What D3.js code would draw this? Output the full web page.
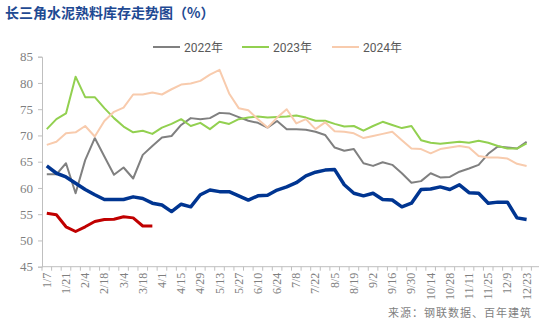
<!DOCTYPE html>
<html>
<head>
<meta charset="utf-8">
<script src="https://cdn.jsdelivr.net/npm/d3@7"></script>
<style>
  body { margin: 0; background: #fff; }
  svg { display: block; }
</style>
</head>
<body>
<svg id="chart" width="539" height="333"></svg>
<script>
// weekly categories, 1/7 .. 12/30
const weeks = [
  '1/7','1/14','1/21','1/28','2/4','2/11','2/18','2/25','3/4','3/11','3/18','3/25',
  '4/1','4/8','4/15','4/22','4/29','5/6','5/13','5/20','5/27','6/3','6/10','6/17',
  '6/24','7/1','7/8','7/15','7/22','7/29','8/5','8/12','8/19','8/26','9/2','9/9',
  '9/16','9/23','9/30','10/7','10/14','10/21','10/28','11/4','11/11','11/18','11/25','12/2',
  '12/9','12/16','12/23','12/30'
];

const y2022 = [62.6,62.6,64.7,59.0,65.3,69.5,66.0,62.5,63.9,61.8,66.3,68.0,69.6,69.9,72.0,73.3,73.1,73.3,
  74.3,74.2,73.5,72.8,72.4,71.5,72.75,71.2,71.2,71.1,70.7,70.1,67.7,67.1,67.4,64.7,64.2,64.9,
  64.4,62.8,61.0,61.3,62.8,62.0,62.1,63.1,63.7,64.4,66.5,67.9,67.7,67.5,68.8];
const y2023 = [71.2,73.1,74.2,81.2,77.3,77.3,75.2,73.3,71.7,70.6,70.9,70.3,71.5,72.2,73.1,71.8,72.4,71.2,
  72.6,72.2,73.1,73.4,73.6,73.4,73.5,73.6,73.8,73.4,72.8,72.8,72.2,71.7,71.8,70.9,71.8,72.6,
  72.0,71.4,71.8,69.1,68.6,68.4,68.6,68.8,68.6,69.0,68.6,68.0,67.5,67.5,68.5];
const y2024 = [68.2,68.8,70.4,70.6,71.8,69.8,72.75,74.5,75.3,77.8,77.8,78.2,77.8,78.8,79.7,79.9,80.4,81.6,
  82.5,78.0,75.2,74.8,73.1,71.5,73.4,75.0,72.3,73.1,71.2,72.5,70.8,70.7,70.4,69.5,69.9,70.3,
  70.7,69.1,67.5,67.4,66.6,67.4,67.7,68.0,67.7,66.1,65.8,65.8,65.6,64.6,64.2];
const y2025 = [64.2,62.8,62.1,60.9,59.7,58.7,57.8,57.8,57.8,58.3,58.0,57.1,56.75,55.5,56.9,56.4,58.7,59.6,
  59.3,59.3,58.5,57.7,58.5,58.6,59.6,60.2,61.0,62.3,63.0,63.4,63.5,60.6,59.0,58.5,59.0,57.8,
  57.7,56.4,57.1,59.7,59.8,60.2,59.7,60.6,59.1,59.0,57.1,57.3,57.3,54.3,54.0];
const y2026 = [55.2,54.9,52.6,51.7,52.6,53.6,54.0,54.05,54.5,54.3,52.75,52.75];

const yTicks = [45,50,55,60,65,70,75,80,85];

const series = [
  {name: '2022年', values: y2022, color: '#808080', width: 2, legend: true},
  {name: '2023年', values: y2023, color: '#92d050', width: 2, legend: true},
  {name: '2024年', values: y2024, color: '#f8cbad', width: 2, legend: true},
  {name: '2025年', values: y2025, color: '#003591', width: 3.5, legend: false},
  {name: '2026年', values: y2026, color: '#c00000', width: 3, legend: false}
];

const svg = d3.select('#chart');
const axisColor = '#bfbfbf';

const x = d3.scaleBand()
  .domain(weeks)
  .range([42, 541]);

const y = d3.scaleLinear()
  .domain([45, 85])
  .range([266.7, 56.7]);

// title
svg.append('text')
  .attr('x', 5)
  .attr('y', 18)
  .attr('font-family', '"Noto Sans CJK SC", sans-serif')
  .attr('font-weight', 'bold')
  .attr('font-size', 14)
  .attr('fill', '#1f4a93')
  .text('长三角水泥熟料库存走势图（%）');

// y axis
const yAxis = svg.append('g')
  .attr('transform', 'translate(42,0)')
  .call(d3.axisLeft(y).tickValues(yTicks).tickSize(4).tickPadding(5));
yAxis.select('.domain').attr('stroke', axisColor);
yAxis.selectAll('.tick line').attr('stroke', axisColor);
yAxis.selectAll('.tick text')
  .attr('fill', '#7f7f7f')
  .attr('font-family', '"Liberation Serif", serif')
  .attr('font-size', 13);

// x axis: ticks at band edges, labels at every second band
const xg = svg.append('g');
xg.append('line')
  .attr('x1', x.range()[0]).attr('x2', x.range()[1])
  .attr('y1', y(45)).attr('y2', y(45))
  .attr('stroke', axisColor);
xg.selectAll('line.tk')
  .data(weeks)
  .join('line')
    .attr('class', 'tk')
    .attr('x1', d => x(d)).attr('x2', d => x(d))
    .attr('y1', y(45)).attr('y2', y(45) + 4)
    .attr('stroke', axisColor);
xg.selectAll('text')
  .data(weeks.filter((d, i) => i % 2 === 0 && i < 51))
  .join('text')
    .attr('transform', d => 'translate(' + (x(d) + x.bandwidth() / 2 + 4) + ',' + (y(45) + 6) + ') rotate(-90)')
    .attr('text-anchor', 'end')
    .attr('font-family', '"Liberation Serif", serif')
    .attr('font-size', 12)
    .attr('fill', '#7f7f7f')
    .text(d => d);

// lines
const line = d3.line()
  .x((d, i) => x(weeks[i]) + x.bandwidth() / 2)
  .y(d => y(d));

svg.append('g')
  .selectAll('path')
  .data(series)
  .join('path')
    .attr('d', d => line(d.values))
    .attr('fill', 'none')
    .attr('stroke', d => d.color)
    .attr('stroke-width', d => d.width)
    .attr('stroke-linejoin', 'round');

// legend
const legendX = [153, 242, 332];
const lg = svg.append('g')
  .selectAll('g')
  .data(series.filter(d => d.legend))
  .join('g')
    .attr('transform', (d, i) => 'translate(' + legendX[i] + ',47)');
lg.append('line')
  .attr('x1', 0).attr('x2', 27)
  .attr('stroke', d => d.color)
  .attr('stroke-width', 2);
lg.append('text')
  .attr('x', 31)
  .attr('y', 4.5)
  .attr('font-family', 'Roboto, "Noto Sans CJK SC", sans-serif')
  .attr('font-size', 12)
  .attr('fill', '#595959')
  .text(d => d.name);

// source
svg.append('text')
  .attr('x', 532)
  .attr('y', 317)
  .attr('text-anchor', 'end')
  .attr('font-family', '"Noto Sans CJK SC", sans-serif')
  .attr('font-size', 11)
  .attr('letter-spacing', 1)
  .attr('fill', '#7f7f7f')
  .text('来源：钢联数据、百年建筑');
</script>
</body>
</html>
